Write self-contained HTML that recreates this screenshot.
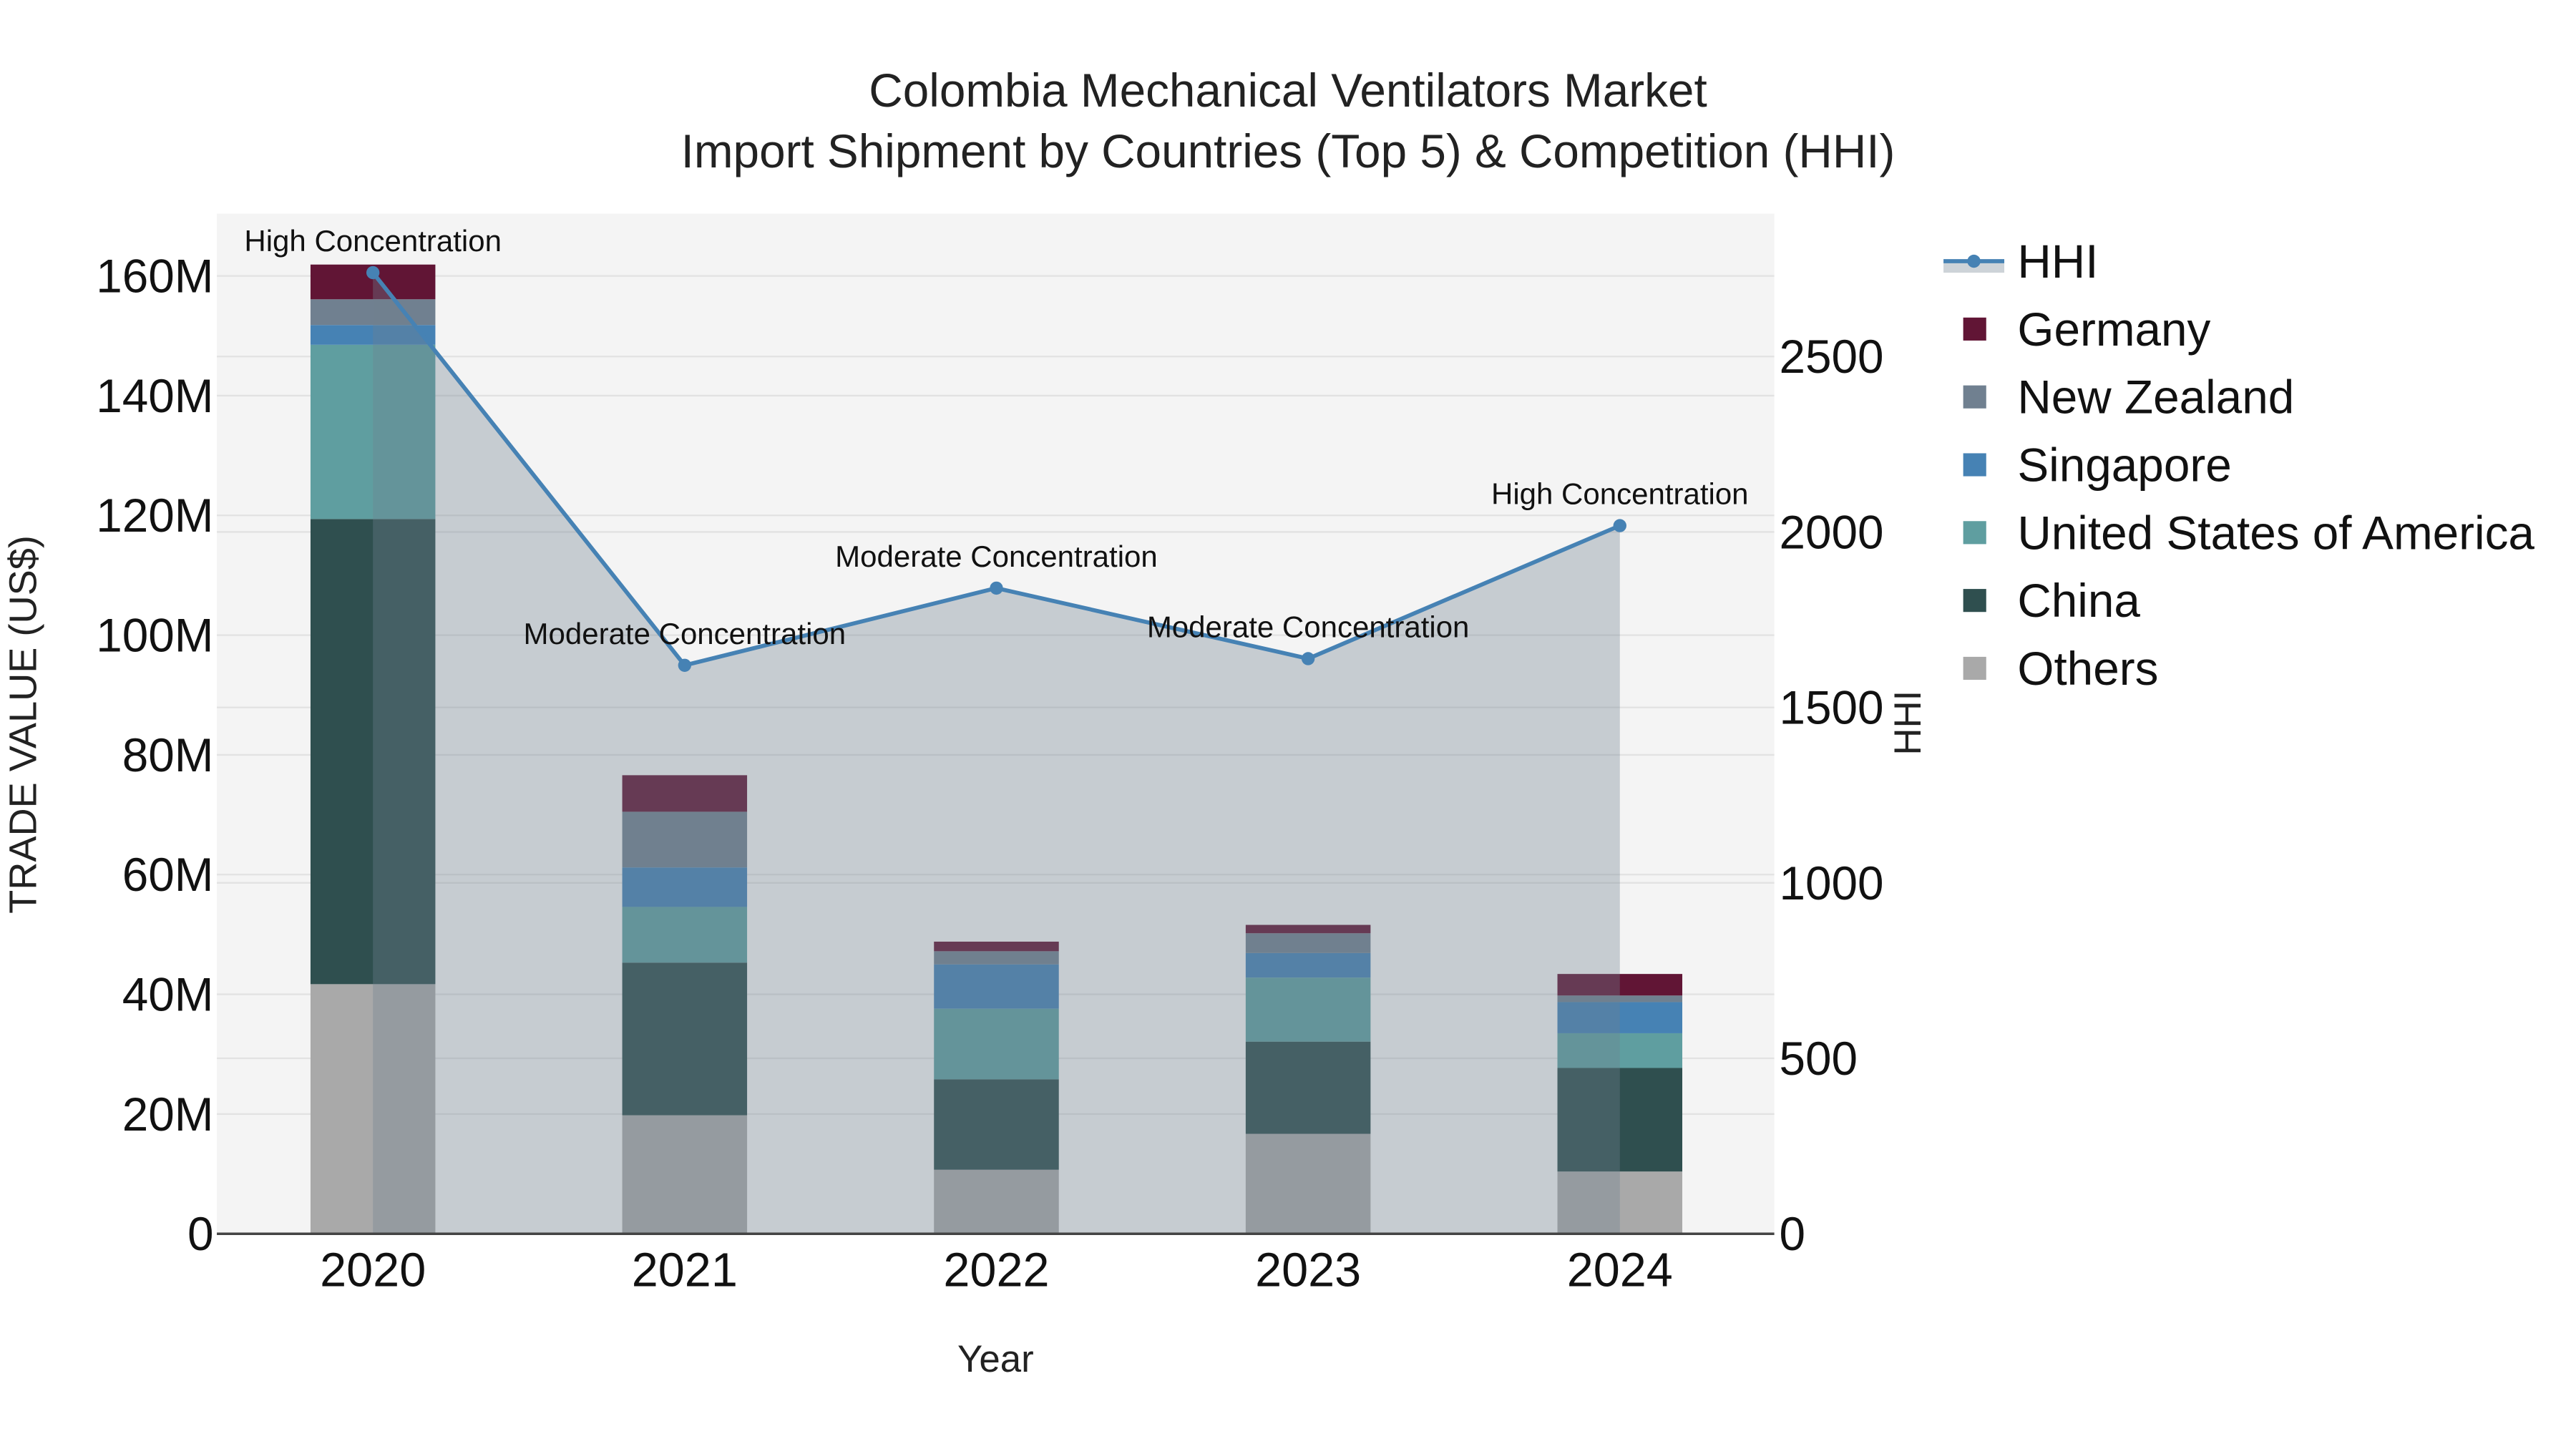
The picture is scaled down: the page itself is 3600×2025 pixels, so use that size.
<!DOCTYPE html>
<html><head><meta charset="utf-8"><style>
html,body{margin:0;padding:0;background:#fff;}
svg{display:block;font-family:"Liberation Sans",sans-serif;}
</style></head><body>
<svg id="chart" width="3600" height="2025" viewBox="0 0 1568 882" xmlns="http://www.w3.org/2000/svg">
<rect x="0" y="0" width="1568" height="882" fill="#fff"/>
<rect x="132" y="130" width="948" height="621" fill="#f4f4f4"/>
<g id="grid"></g>
<g id="bars"></g>
<g id="hhi"></g>
<g id="axes"></g>
<text x="784" y="65" text-anchor="middle" font-size="28.6" fill="#222">Colombia Mechanical Ventilators Market</text>
<text x="784" y="102" text-anchor="middle" font-size="28.6" fill="#222">Import Shipment by Countries (Top 5) &amp; Competition (HHI)</text>
<text transform="translate(22,441) rotate(-90)" text-anchor="middle" font-size="23.6" fill="#222">TRADE VALUE (US$)</text>
<text transform="translate(1169,440) rotate(-90)" text-anchor="middle" font-size="23" fill="#222">HHI</text>
<text x="606" y="835" text-anchor="middle" font-size="23" fill="#222">Year</text>
<g id="legend"></g>
</svg>
<script>
const years = ["2020","2021","2022","2023","2024"];
const others = [41.7, 19.8, 10.7, 16.7, 10.4];
const china = [77.7, 25.5, 15.1, 15.4, 17.3];
const usa = [29.1, 9.3, 11.8, 10.7, 5.8];
const singapore = [3.3, 6.6, 7.4, 4.1, 5.2];
const newZealand = [4.3, 9.3, 2.2, 3.3, 1.1];
const germany = [5.8, 6.1, 1.6, 1.4, 3.6];
const hhi = [2739, 1620, 1840, 1639, 2018];
const hhiLabels = ["High Concentration","Moderate Concentration","Moderate Concentration","Moderate Concentration","High Concentration"];
const yTicks = [0,20,40,60,80,100,120,140,160];
const yTickLabels = ["0","20M","40M","60M","80M","100M","120M","140M","160M"];
const y2Ticks = [0,500,1000,1500,2000,2500];

const NS="http://www.w3.org/2000/svg";
function mk(tag, attrs, parent){const e=document.createElementNS(NS,tag);for(const k in attrs)e.setAttribute(k,attrs[k]);parent.appendChild(e);return e;}
const xPos = i => 227 + i*189.75;
const yPos = v => 751 - v*3.644;
const y2Pos = v => 751 - v*0.2136;
const barW = 76;

const grid=document.getElementById('grid');
yTicks.forEach(t=>{const l=mk('line',{x1:132,x2:1080,y1:yPos(t),y2:yPos(t),stroke:'#e2e2e2','stroke-width':1},grid);

});
y2Ticks.forEach(t=>{const l=mk('line',{x1:132,x2:1080,y1:y2Pos(t),y2:y2Pos(t),stroke:'#e2e2e2','stroke-width':1},grid);

});

const series=[
 {name:'others',vals:others,color:'#a9a9a9'},
 {name:'china',vals:china,color:'#2f4f4f'},
 {name:'usa',vals:usa,color:'#5f9ea0'},
 {name:'singapore',vals:singapore,color:'#4682b4'},
 {name:'new-zealand',vals:newZealand,color:'#708090'},
 {name:'germany',vals:germany,color:'#611535'}];
const bars=document.getElementById('bars');
years.forEach((yr,i)=>{let base=0;series.forEach(s=>{const v=s.vals[i];
 const r=mk('rect',{x:xPos(i)-barW/2,y:yPos(base+v),width:barW,height:yPos(base)-yPos(base+v),fill:s.color},bars);
 
 
 base+=v;});});

const hg=document.getElementById('hhi');
let d='M'+xPos(0)+','+y2Pos(0);
hhi.forEach((v,i)=>{d+=' L'+xPos(i)+','+y2Pos(v);});
d+=' L'+xPos(hhi.length-1)+','+y2Pos(0)+' Z';
const area=mk('path',{d:d,fill:'rgba(112,128,144,0.35)'},hg);


const line=mk('polyline',{points:hhi.map((v,i)=>xPos(i)+','+y2Pos(v)).join(' '),fill:'none',stroke:'#4682b4','stroke-width':2.5},hg);


hhi.forEach((v,i)=>{
 const c=mk('circle',{cx:xPos(i),cy:y2Pos(v),r:4,fill:'#4682b4'},hg);
 
 
 const t=mk('text',{x:xPos(i),y:y2Pos(v)-13,'text-anchor':'middle','font-size':18.3,fill:'#111'},hg);
 t.textContent=hhiLabels[i];
 
 
});

const ax=document.getElementById('axes');
const base=mk('line',{x1:132,x2:1080,y1:751,y2:751,stroke:'#444','stroke-width':1.5},ax);


yTicks.forEach((t,i)=>{const e=mk('text',{x:130,y:yPos(t)+10,'text-anchor':'end','font-size':28.6,fill:'#111'},ax);e.textContent=yTickLabels[i];

});
y2Ticks.forEach(t=>{const e=mk('text',{x:1083,y:y2Pos(t)+10,'font-size':28.6,fill:'#111'},ax);e.textContent=String(t);

});
years.forEach((yr,i)=>{const e=mk('text',{x:xPos(i),y:783,'text-anchor':'middle','font-size':29,fill:'#111'},ax);e.textContent=yr;

});

const lg=document.getElementById('legend');
const ly0=159, ls=41.3;
const lr=mk('rect',{x:1183,y:159,width:37,height:7,fill:'rgba(112,128,144,0.35)'},lg);


const ll=mk('line',{x1:1183,x2:1220,y1:159,y2:159,stroke:'#4682b4','stroke-width':2.5},lg);


const lc=mk('circle',{cx:1201.5,cy:159,r:4,fill:'#4682b4'},lg);


const legendNames=["HHI","Germany","New Zealand","Singapore","United States of America","China","Others"];
const legendColors=[null,'#611535','#708090','#4682b4','#5f9ea0','#2f4f4f','#a9a9a9'];
legendNames.forEach((n,i)=>{const y=ly0+i*ls;
 if(legendColors[i]){const s=mk('rect',{x:1195,y:y-7,width:14,height:14,fill:legendColors[i]},lg);
 
 }
 const t=mk('text',{x:1228,y:y+10,'font-size':28.6,fill:'#111'},lg);t.textContent=n;
 
 });
</script>
</body></html>
